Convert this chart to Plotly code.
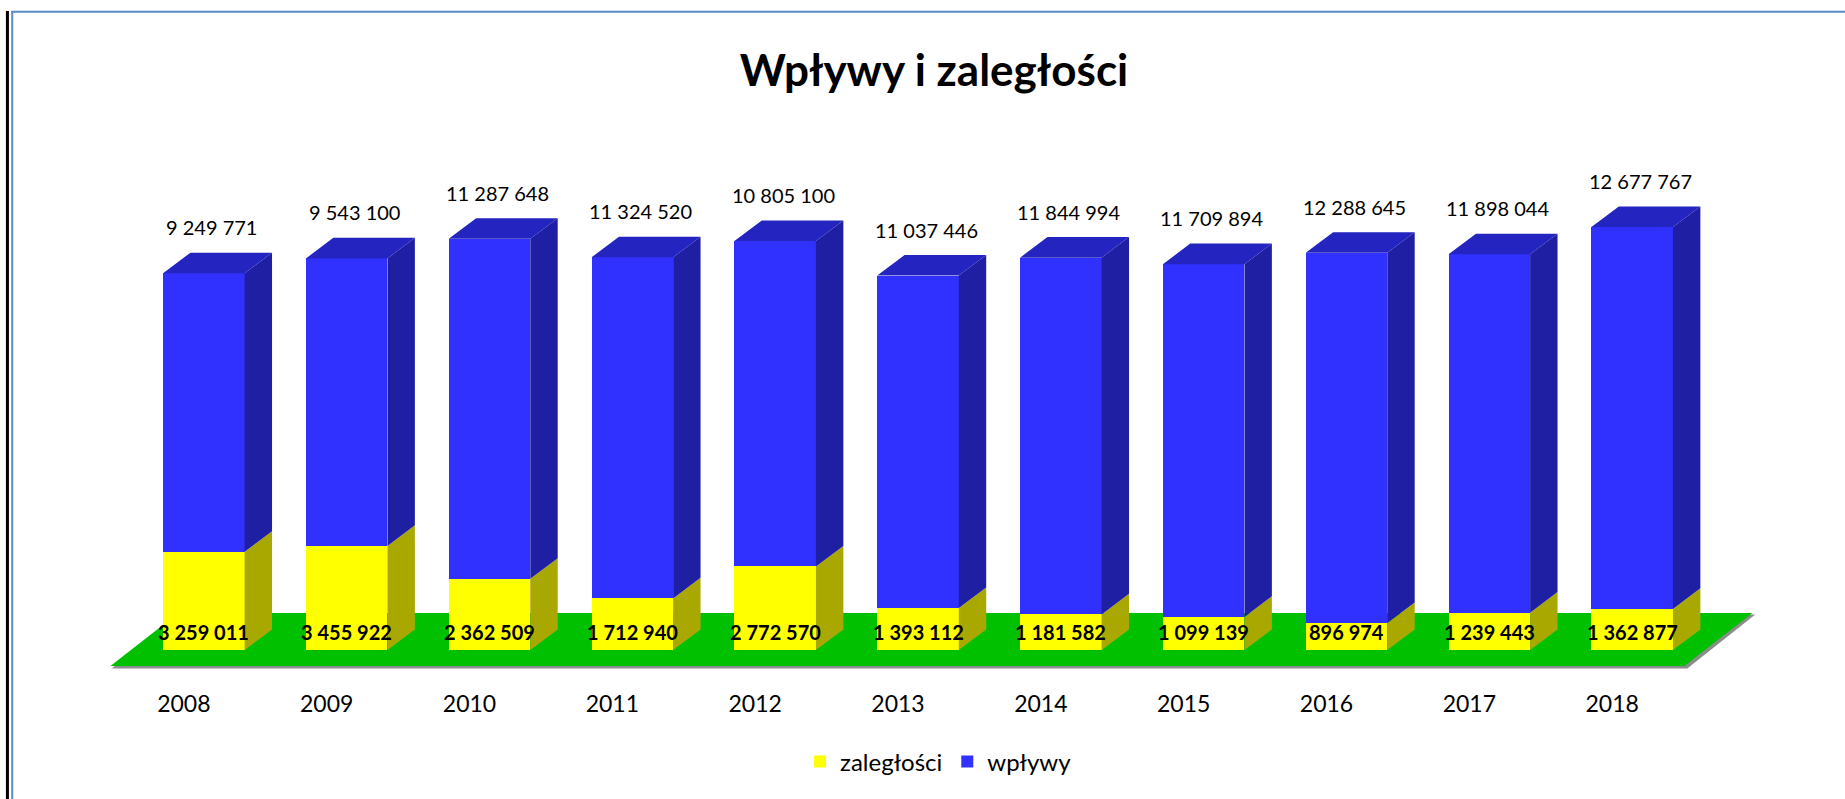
import plotly.graph_objects as go

# ---- data ----
years = ["2008", "2009", "2010", "2011", "2012", "2013", "2014", "2015", "2016", "2017", "2018"]
zaleglosci = [3259011, 3455922, 2362509, 1712940, 2772570, 1393112, 1181582, 1099139, 896974, 1239443, 1362877]
wplywy = [9249771, 9543100, 11287648, 11324520, 10805100, 11037446, 11844994, 11709894, 12288645, 11898044, 12677767]

# ---- style / geometry ----
FONT = "Lato"
C_YEL, C_YEL_SIDE = "#FFFF00", "#A8A800"
C_BLUE, C_BLUE_SIDE, C_BLUE_TOP = "#3030FF", "#1F1FA3", "#2424C0"
C_FLOOR = "#00C000"
BAR_W = 0.571
DX, DY = 0.192, 0.684e6          # depth offset (category units, value units)
W, H = 1845, 799
ML, MR, MT, MB = 60.6, 69.6, 130, 113
XR = [-1.0, 11.0]
YR = [-1.195e6, 17.264e6]

n = len(years)
xs = list(range(n))
totals = [a + b for a, b in zip(zaleglosci, wplywy)]


def fmt(v):
    return f"{v:,}".replace(",", " ")


fig = go.Figure()

# front faces
fig.add_trace(go.Bar(x=xs, y=zaleglosci, name="zaległości", width=BAR_W,
                     marker=dict(color=C_YEL, line=dict(width=0)), hoverinfo="skip"))
fig.add_trace(go.Bar(x=xs, y=wplywy, name="wpływy", width=BAR_W,
                     marker=dict(color=C_BLUE, line=dict(width=0)), hoverinfo="skip"))


def poly_trace(polys, color):
    px, py = [], []
    for p in polys:
        for (a, b) in p:
            px.append(a)
            py.append(b)
        px.append(p[0][0]); py.append(p[0][1])
        px.append(None); py.append(None)
    return go.Scatter(x=px, y=py, mode="lines", fill="toself", fillcolor=color,
                      line=dict(width=0, color=color), showlegend=False, hoverinfo="skip")


ys_side, bl_side, bl_top = [], [], []
for i, z, w in zip(xs, zaleglosci, wplywy):
    r = i + BAR_W / 2
    l = i - BAR_W / 2
    ys_side.append([(r, 0), (r + DX, DY), (r + DX, z + DY), (r, z)])
    bl_side.append([(r, z), (r + DX, z + DY), (r + DX, z + w + DY), (r, z + w)])
    bl_top.append([(l, z + w), (l + DX, z + w + DY), (r + DX, z + w + DY), (r, z + w)])

fig.add_trace(poly_trace(ys_side, C_YEL_SIDE))
fig.add_trace(poly_trace(bl_side, C_BLUE_SIDE))
fig.add_trace(poly_trace(bl_top, C_BLUE_TOP))

# floor (under the bars)
f_half, f_shift = 0.51, -0.144
f_dx, f_front, f_back = 0.476, -0.531e6, 1.228e6
x0f, x1f = -f_half + f_shift, (n - 1) + f_half + f_shift
floor = [(x0f, f_front), (x1f, f_front), (x1f + f_dx, f_back), (x0f + f_dx, f_back)]
shadow = [(x0f + 0.01, f_front - 0.08e6), (x1f + 0.02, f_front - 0.08e6),
          (x1f + f_dx + 0.02, f_back - 0.05e6), (x0f + f_dx, f_back)]


def path(pts):
    return "M " + " L ".join(f"{a},{b}" for a, b in pts) + " Z"


shapes = [
    dict(type="path", path=path(shadow), xref="x", yref="y", layer="below",
         fillcolor="#8c8c8c", line=dict(width=0)),
    dict(type="path", path=path(floor), xref="x", yref="y", layer="below",
         fillcolor=C_FLOOR, line=dict(width=0)),
]

# frame lines (pixel -> paper)
PW, PH = W - ML - MR, H - MT - MB


def pxx(p):
    return (p - ML) / PW


def pxy(p):
    return (H - MB - p) / PH


shapes += [
    dict(type="line", xref="paper", yref="paper", x0=pxx(7), x1=pxx(7), y0=pxy(11), y1=pxy(H + 5),
         line=dict(color="black", width=3)),
    dict(type="line", xref="paper", yref="paper", x0=pxx(11.8), x1=pxx(11.8), y0=pxy(11), y1=pxy(H + 5),
         line=dict(color="#5B8AC8", width=2)),
    dict(type="line", xref="paper", yref="paper", x0=pxx(11), x1=pxx(W + 5), y0=pxy(11.8), y1=pxy(11.8),
         line=dict(color="#5B8AC8", width=2)),
]

annotations = []
for i, z, w, t in zip(xs, zaleglosci, wplywy, totals):
    annotations.append(dict(x=i, y=0, xref="x", yref="y", text=fmt(z), showarrow=False,
                            yshift=18, yanchor="middle",
                            font=dict(family=FONT, size=20, color="black", weight="bold")))
    annotations.append(dict(x=i, y=t, xref="x", yref="y", text=fmt(w), showarrow=False,
                            yshift=46, xshift=8, yanchor="middle",
                            font=dict(family=FONT, size=20, color="black")))

fig.update_layout(
    width=W, height=H,
    margin=dict(l=ML, r=MR, t=MT, b=MB, pad=0),
    autosize=False,
    barmode="stack",
    paper_bgcolor="white", plot_bgcolor="white",
    title=dict(text="<b>Wpływy i zaległości</b>", x=934 / W, xanchor="center", xref="container",
               y=1 - 71 / H, yanchor="middle", yref="container",
               font=dict(family=FONT, size=44, color="black")),
    xaxis=dict(range=XR, tickvals=xs, ticktext=years, showgrid=False, zeroline=False,
               showline=False, ticks="", ticklabelshift=-20, ticklabelstandoff=2,
               tickfont=dict(family=FONT, size=23, color="black"), fixedrange=True),
    yaxis=dict(range=YR, visible=False, showgrid=False, zeroline=False, fixedrange=True),
    legend=dict(orientation="h", x=0.512, xanchor="center", y=pxy(762), yanchor="middle",
                traceorder="normal", font=dict(family=FONT, size=24, color="black"),
                itemclick=False, itemdoubleclick=False),
    shapes=shapes,
    annotations=annotations,
    showlegend=True,
)

fig.write_html("out.html", config={"displayModeBar": False},
               post_script="document.body.style.margin='0';document.body.style.overflow='hidden';")
